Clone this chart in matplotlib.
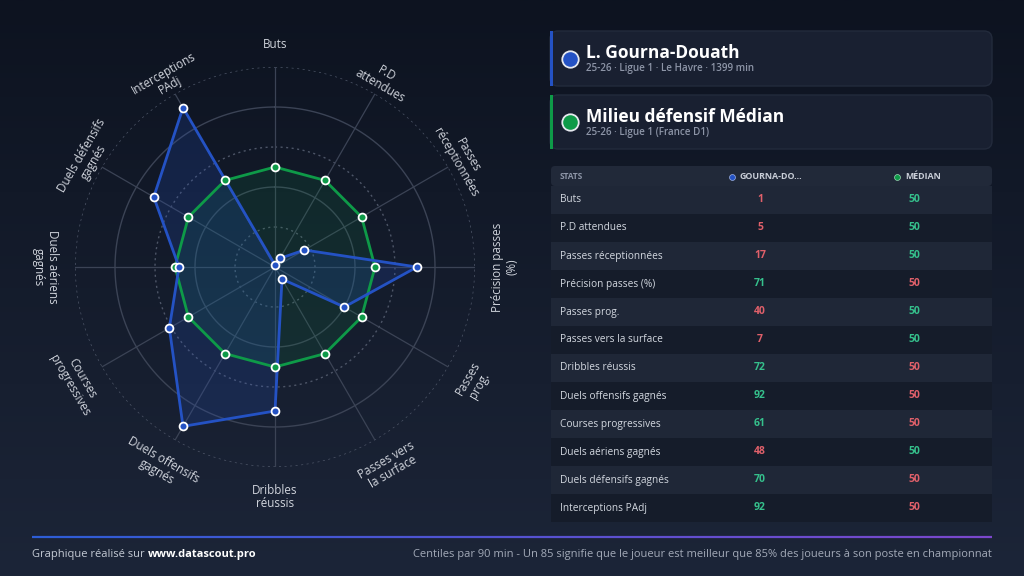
import numpy as np
import matplotlib
matplotlib.use("Agg")
import matplotlib.pyplot as plt
from matplotlib.patches import FancyBboxPatch, Rectangle
from matplotlib.collections import LineCollection
from matplotlib.colors import LinearSegmentedColormap, to_rgb
from matplotlib.transforms import offset_copy

# ---------------- data ----------------
categories = ["Buts", "P.D attendues", "Passes réceptionnées", "Précision passes (%)",
              "Passes prog.", "Passes vers la surface", "Dribbles réussis",
              "Duels offensifs gagnés", "Courses progressives", "Duels aériens gagnés",
              "Duels défensifs gagnés", "Interceptions PAdj"]
radar_labels = ["Buts", "P.D\nattendues", "Passes\nréceptionnées", "Précision passes\n(%)",
                "Passes\nprog.", "Passes vers\nla surface", "Dribbles\nréussis",
                "Duels offensifs\ngagnés", "Courses\nprogressives", "Duels aériens\ngagnés",
                "Duels défensifs\ngagnés", "Interceptions\nPAdj"]
player_values = [1, 5, 17, 71, 40, 7, 72, 92, 61, 48, 70, 92]
median_values = [50, 50, 50, 50, 50, 50, 50, 50, 50, 50, 50, 50]
grid_levels = [20, 40, 60, 80, 100]

player_name = "L. Gourna-Douath"
player_sub = "25-26 · Ligue 1 · Le Havre · 1399 min"
median_name = "Milieu défensif Médian"
median_sub = "25-26 · Ligue 1 (France D1)"
col_headers = ["STATS", "GOURNA-DO...", "MÉDIAN"]
footer_left = "Graphique réalisé sur "
footer_link = "www.datascout.pro"
footer_right = ("Centiles par 90 min - Un 85 signifie que le joueur est meilleur que 85% "
                "des joueurs à son poste en championnat")

# ---------------- style ----------------
BLUE = "#2452c4"
GREEN = "#0e9a48"
VAL_GREEN = "#35c08c"
VAL_RED = "#e0606a"
TXT = "#d3d8e0"
SUB = "#8d95a7"
GRID = "#3b4355"

plt.rcParams["font.family"] = ["Open Sans", "DejaVu Sans"]

fig = plt.figure(figsize=(10.24, 5.76), dpi=100)

# background / layout axes in pixel coordinates
bg = fig.add_axes([0, 0, 1, 1])
bg.set_xlim(0, 1024)
bg.set_ylim(576, 0)
bg.axis("off")
grad = np.linspace(0, 1, 256).reshape(-1, 1)
cmap_bg = LinearSegmentedColormap.from_list("bg", ["#0d1320", "#1c2538"])
bg.imshow(grad, extent=[0, 1024, 576, 0], aspect="auto", cmap=cmap_bg, zorder=0)

# ---- cards ----
def card(y0, y1, accent, name, sub):
    bg.add_patch(FancyBboxPatch((550, y0), 442, y1 - y0,
                                boxstyle="round,pad=0,rounding_size=8",
                                facecolor="#192031", edgecolor="#232b3c", lw=1, zorder=1))
    bg.add_patch(Rectangle((550, y0), 3, y1 - y0, facecolor=accent, edgecolor="none", zorder=2))
    yc = (y0 + y1) / 2
    bg.scatter([570], [yc], s=140, color=accent, edgecolors="#e6e9ef", linewidths=1.3, zorder=3)
    bg.text(586, yc - 5, name, color="white", fontsize=12.5, fontweight="bold",
            va="center", ha="left", zorder=3)
    bg.text(586, yc + 10, sub, color=SUB, fontsize=7.1, fontweight="semibold",
            va="center", ha="left", zorder=3)

card(31, 86, BLUE, player_name, player_sub)
card(95, 149, GREEN, median_name, median_sub)

# ---- table ----
bg.add_patch(FancyBboxPatch((551, 166), 441, 20, boxstyle="round,pad=0,rounding_size=4",
                            facecolor="#212939", edgecolor="none", zorder=1))
bg.text(560, 176.5, col_headers[0], color=SUB, fontsize=6.0, fontweight="bold",
        va="center", ha="left", zorder=3)
bg.scatter([732], [176.5], s=18, color=BLUE, edgecolors="#9fb3e6", linewidths=0.5, zorder=3)
bg.text(740, 176.5, col_headers[1], color="#c9ced8", fontsize=6.4, fontweight="bold",
        va="center", ha="left", zorder=3)
bg.scatter([897], [176.5], s=18, color=GREEN, edgecolors="#9fd8b6", linewidths=0.5, zorder=3)
bg.text(905, 176.5, col_headers[2], color="#c9ced8", fontsize=6.4, fontweight="bold",
        va="center", ha="left", zorder=3)

row_h = 28
for i, (cat, pv, mv) in enumerate(zip(categories, player_values, median_values)):
    yc = 200 + i * row_h
    face = "#1f2737" if i % 2 == 0 else "#151c2a"
    bg.add_patch(Rectangle((551, yc - row_h / 2), 441, row_h, facecolor=face,
                           edgecolor="none", zorder=1))
    bg.text(560, yc, cat, color=TXT, fontsize=7.3, va="center", ha="left", zorder=3)
    bg.text(760, yc, str(pv), color=VAL_GREEN if pv > mv else VAL_RED, fontsize=7.5,
            fontweight="bold", va="center", ha="center", zorder=3)
    bg.text(914, yc, str(mv), color=VAL_GREEN if mv > pv else VAL_RED, fontsize=7.5,
            fontweight="bold", va="center", ha="center", zorder=3)

# ---- footer ----
xs = np.linspace(32, 992, 200)
segs = [[(xs[k], 537), (xs[k + 1], 537)] for k in range(len(xs) - 1)]
c0, c1 = np.array(to_rgb("#2d5dd6")), np.array(to_rgb("#7b47cc"))
cols = [tuple(c0 + (c1 - c0) * t) for t in np.linspace(0, 1, len(segs))]
bg.add_collection(LineCollection(segs, colors=cols, linewidths=1.6, zorder=2))
t1 = bg.text(32, 555, footer_left, color="#c4cad4", fontsize=8.0, va="center", ha="left", zorder=3)
fig.canvas.draw()
bb = t1.get_window_extent()
bg.text(bb.x1, 555, footer_link, color="white", fontsize=8.0, fontweight="bold",
        va="center", ha="left", zorder=3)
bg.text(992, 555, footer_right, color="#a3aab8", fontsize=8.0, va="center", ha="right",
        zorder=3)

# ---------------- radar ----------------
cx, cy, R = 275, 267, 200
ax = fig.add_axes([(cx - R) / 1024, (576 - cy - R) / 576, 2 * R / 1024, 2 * R / 576],
                  projection="polar")
ax.set_theta_zero_location("N")
ax.set_theta_direction(-1)
ax.set_ylim(0, 100)
ax.set_axis_off()
ax.patch.set_alpha(0)

n = len(categories)
angles = np.arange(n) * 2 * np.pi / n
ring = np.linspace(0, 2 * np.pi, 400)
for lv in grid_levels:
    if lv in (40, 80):
        ax.plot(ring, np.full_like(ring, lv), color=GRID, lw=1.0, zorder=1)
    else:
        ax.plot(ring, np.full_like(ring, lv), color="#4d5567", lw=1.0,
                linestyle=(0, (1.5, 2.5)), zorder=1)
for a in angles:
    ax.plot([a, a], [0, 100], color=GRID, lw=0.9, zorder=1)

ang_c = np.concatenate([angles, angles[:1]])
med_c = np.concatenate([median_values, median_values[:1]])
ply_c = np.concatenate([player_values, player_values[:1]])

ax.fill(ang_c, med_c, color=GREEN, alpha=0.13, zorder=2)
ax.fill(ang_c, ply_c, color=BLUE, alpha=0.20, zorder=2)
ax.plot(ang_c, med_c, color=GREEN, lw=2, zorder=3)
ax.plot(ang_c, ply_c, color=BLUE, lw=2, zorder=4)
ax.scatter(angles, median_values, s=32, color=GREEN, edgecolors="white", linewidths=1.3,
           zorder=5)
ax.scatter(angles, player_values, s=32, color=BLUE, edgecolors="white", linewidths=1.3,
           zorder=6)

# labels: first line sits on a ring just outside the chart, next lines stack
# below it in the rotated text frame
line_px = 13.5
label_r = 111.5
for a, lab in zip(angles, radar_labels):
    deg = np.degrees(a)
    if deg < 90:
        rot = -deg
    elif deg <= 270:
        rot = 180 - deg
    else:
        rot = 360 - deg
    rr = np.radians(rot)
    down = np.array([np.sin(rr), -np.cos(rr)])
    for k, line in enumerate(lab.split("\n")):
        off = k * line_px
        tr = offset_copy(ax.transData, fig=fig, x=down[0] * off, y=down[1] * off,
                         units="dots")
        ax.text(a, label_r, line, rotation=rot, rotation_mode="anchor", ha="center",
                va="center", color="#d0d4dc", fontsize=8.4, clip_on=False, zorder=6,
                transform=tr)

fig.savefig("out.png", dpi=100, facecolor=fig.get_facecolor())
